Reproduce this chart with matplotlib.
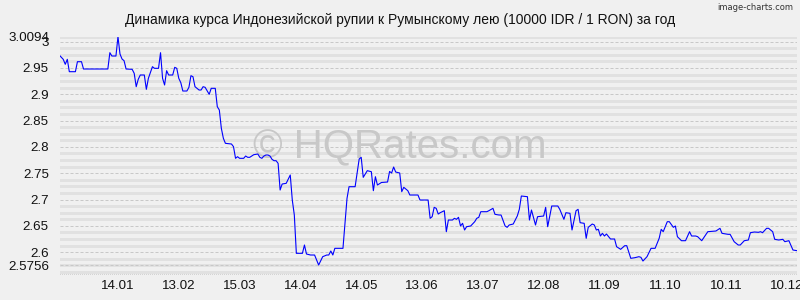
import matplotlib
matplotlib.use("Agg")
import matplotlib.pyplot as plt
import matplotlib.dates as mdates
import numpy as np
import pandas as pd

# ---------------- data ----------------
title = "Динамика курса Индонезийской рупии к Румынскому лею (10000 IDR / 1 RON) за год"
start_date = "2018-12-16"

day_offsets = [
    0, 2, 3, 4, 5, 8, 9, 11, 12, 24, 25, 26, 28, 29, 30, 31, 32, 33, 36, 37,
    38, 39, 40, 42, 43, 44, 46, 47, 49, 50, 51, 52, 53, 54, 56, 57, 58, 59, 60, 61,
    63, 64, 65, 66, 67, 69, 70, 71, 72, 74, 75, 77, 78, 79, 80, 81, 82, 85, 86, 87,
    88, 89, 91, 92, 93, 94, 96, 98, 99, 100, 101, 102, 103, 104, 105, 106, 107, 108, 109, 110,
    112, 114, 115, 116, 117, 120, 121, 122, 124, 126, 128, 130, 132, 133, 134, 135, 136, 140, 142, 143,
    146, 148, 149, 150, 152, 154, 155, 156, 157, 159, 162, 163, 164, 165, 166, 168, 169, 170, 172, 173,
    177, 178, 182, 183, 184, 185, 186, 187, 188, 190, 191, 192, 194, 195, 196, 197, 198, 199, 200, 201,
    203, 205, 206, 207, 208, 211, 212, 214, 215, 217, 218, 220, 221, 222, 224, 226, 227, 228, 231, 232,
    233, 235, 236, 239, 240, 241, 243, 246, 247, 249, 250, 252, 253, 255, 256, 257, 259, 260, 261, 263,
    264, 265, 266, 267, 268, 269, 270, 272, 274, 275, 277, 279, 280, 282, 284, 286, 287, 288, 290, 292,
    294, 296, 297, 298, 300, 301, 303, 304, 305, 307, 309, 311, 312, 314, 315, 317, 320, 324, 326, 327,
    330, 331, 333, 335, 336, 338, 340, 341, 343, 345, 346, 347, 349, 350, 352, 353, 355, 357, 358, 360,
    362, 364,
]

rates = [
    2.9746, 2.9664, 2.9569, 2.9664, 2.9429, 2.9429, 2.9619, 2.9619, 2.9480, 2.9480,
    2.9790, 2.9727, 2.9727, 3.0094, 2.9765, 2.9670, 2.9638, 2.9480, 2.9474, 2.9398,
    2.9144, 2.9284, 2.9366, 2.9366, 2.9094, 2.9303, 2.9524, 2.9493, 2.9493, 2.9790,
    2.9303, 2.9176, 2.9448, 2.9366, 2.9366, 2.9512, 2.9493, 2.9303, 2.9220, 2.9062,
    2.9062, 2.9132, 2.9353, 2.9334, 2.9144, 2.9081, 2.9081, 2.9144, 2.9132, 2.8999,
    2.9113, 2.9113, 2.8764, 2.8701, 2.8353, 2.8163, 2.8068, 2.8055, 2.8004, 2.7783,
    2.7814, 2.7783, 2.7783, 2.7827, 2.7802, 2.7802, 2.7852, 2.7865, 2.7802, 2.7783,
    2.7827, 2.7846, 2.7846, 2.7827, 2.7764, 2.7738, 2.7738, 2.7688, 2.7181, 2.7295,
    2.7308, 2.7466, 2.6991, 2.6706, 2.5978, 2.5978, 2.6136, 2.5965, 2.5946, 2.5946,
    2.5756, 2.5914, 2.5946, 2.5946, 2.6022, 2.5946, 2.6073, 2.6073, 2.7023, 2.7244,
    2.7244, 2.7770, 2.7802, 2.7422, 2.7548, 2.7529, 2.7168, 2.7434, 2.7276, 2.7324,
    2.7333, 2.7533, 2.7504, 2.7618, 2.7523, 2.7504, 2.7149, 2.7232, 2.7168, 2.7086,
    2.7086, 2.6991, 2.6991, 2.6643, 2.6674, 2.6852, 2.6833, 2.6725, 2.6750, 2.6788,
    2.6389, 2.6611, 2.6611, 2.6643, 2.6624, 2.6662, 2.6497, 2.6548, 2.6421, 2.6484,
    2.6497, 2.6579, 2.6643, 2.6662, 2.6769, 2.6769, 2.6788, 2.6833, 2.6719, 2.6706,
    2.6706, 2.6497, 2.6472, 2.6516, 2.6535, 2.6687, 2.6814, 2.7067, 2.7054, 2.6611,
    2.6801, 2.6516, 2.6674, 2.6687, 2.6852, 2.6484, 2.6877, 2.6877, 2.6811, 2.6624,
    2.6750, 2.6738, 2.6421, 2.6788, 2.6814, 2.6560, 2.6548, 2.6263, 2.6472, 2.6535,
    2.6516, 2.6421, 2.6434, 2.6307, 2.6358, 2.6307, 2.6345, 2.6250, 2.6250, 2.6104,
    2.6054, 2.6123, 2.6123, 2.5883, 2.5895, 2.5914, 2.5902, 2.5832, 2.5914, 2.6073,
    2.6073, 2.6263, 2.6434, 2.6389, 2.6579, 2.6579, 2.6472, 2.6497, 2.6294, 2.6218,
    2.6218, 2.6389, 2.6307, 2.6307, 2.6294, 2.6218, 2.6389, 2.6402, 2.6453, 2.6358,
    2.6339, 2.6339, 2.6199, 2.6136, 2.6136, 2.6218, 2.6231, 2.6370, 2.6383, 2.6377,
    2.6389, 2.6370, 2.6453, 2.6453, 2.6389, 2.6244, 2.6231, 2.6244, 2.6199, 2.6218,
    2.6041, 2.6028,
]

tick_labels = ["14.01", "13.02", "15.03", "14.04", "14.05", "13.06",
               "13.07", "12.08", "11.09", "11.10", "10.11", "10.12"]
tick_year = 2019
y_ticks = [2.6, 2.65, 2.7, 2.75, 2.8, 2.85, 2.9, 2.95, 3.0]
y_low, y_high = 2.5756, 3.0094

# ---------------- plot ----------------
plt.rcParams["font.family"] = ["Liberation Sans", "DejaVu Sans"]
plt.rcParams["lines.scale_dashes"] = False

bg = "#f0f0f0"
fig = plt.figure(figsize=(8, 3), dpi=100, facecolor=bg)
ax = fig.add_axes([0.075, 0.0833, 0.92125, 0.7944])
ax.set_facecolor(bg)

start = pd.Timestamp(start_date)
dates = start + pd.to_timedelta(day_offsets, unit="D")
xnum = mdates.date2num(dates.to_pydatetime())
x0 = mdates.date2num(start.to_pydatetime())

# minor banded grid rows
px = 0.72
minor_vals = np.arange(2.5625, 3.0, 0.0125)
for v in minor_vals:
    if any(abs(v - m) < 1e-6 for m in y_ticks):
        continue
    ax.axhline(v, color="#d4d4d4", lw=3 * px, dashes=(px, px), zorder=1)
ax.axhline(y_high, color="#d4d4d4", lw=3 * px, dashes=(px, px), zorder=1)
# major dashed lines
for v in y_ticks + [y_low]:
    ax.axhline(v, color="#c8c8c8", lw=px, dashes=(3 * px, 2 * px), zorder=1)
ax.axhline(2.5566, color="#d4d4d4", lw=2 * px, dashes=(px, px), zorder=1)

ax.text(0.5, 0.51, "© HQRates.com", transform=fig.transFigure, ha="center",
        va="center", fontsize=29, color="#c8c8c8", zorder=2)

ax.plot(xnum, rates, color="#0000ff", lw=0.8, zorder=3)

tick_dates = [pd.Timestamp(year=tick_year, month=int(t.split(".")[1]),
                           day=int(t.split(".")[0])) for t in tick_labels]
ax.set_xticks(mdates.date2num([d.to_pydatetime() for d in tick_dates]))
ax.set_xticklabels(tick_labels)
ax.set_xlim(x0 + 0.4, x0 + 364.0)

yt = y_ticks + [y_low, y_high]
ax.set_yticks(yt)
ax.set_yticklabels([f"{v:g}" for v in yt])
ax.set_ylim(2.5566, y_high)

ax.tick_params(axis="both", length=0, labelsize=9.6, colors="#111111")
ax.tick_params(axis="y", pad=8)
ax.tick_params(axis="x", pad=3.5)
for s in ax.spines.values():
    s.set_visible(False)

fig.text(0.5, 1 - 20 / 300, title, ha="center", va="center", fontsize=10,
         color="#111111")
fig.text(0.991, 1 - 7 / 300, "image-charts.com", ha="right", va="center",
         fontsize=6, color="#333333", family="DejaVu Sans")

fig.savefig("out.png", dpi=100, facecolor=bg)
